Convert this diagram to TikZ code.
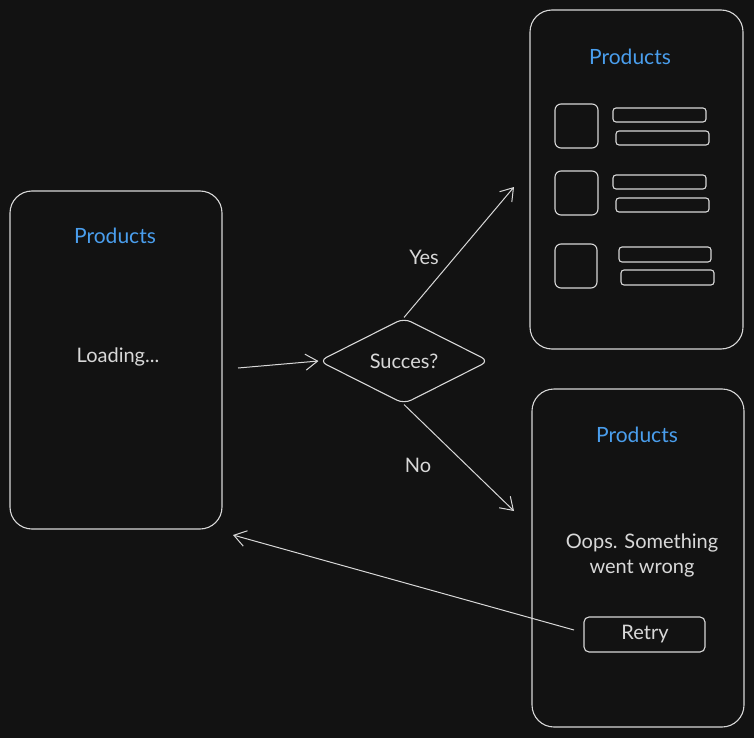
\documentclass[tikz,border=0pt]{standalone}
\usepackage{fontspec}
\setmainfont{Lato}
\usetikzlibrary{arrows.meta,shapes.geometric}
\definecolor{bg}{HTML}{121212}
\definecolor{ink}{HTML}{D8D8D8}
\definecolor{blu}{HTML}{4A9EED}
\tikzset{
  phone/.style={draw=ink, line width=1.1pt, rounded corners=22pt},
  thumb/.style={draw=ink, line width=1.1pt, rounded corners=6pt},
  bar/.style={draw=ink, line width=1.1pt, rounded corners=3pt},
  title/.style={text=blu, font=\fontsize{21}{25}\selectfont},
  lbl/.style={text=ink, font=\fontsize{20}{25}\selectfont, align=center},
  conn/.style={draw=ink, line width=1pt, -{Straight Barb[length=12pt,width=16pt,line width=1pt]}},
}
\begin{document}
\begin{tikzpicture}[x=1pt,y=-1pt]
\fill[bg] (0,0) rectangle (754,738);
\useasboundingbox (0,0) rectangle (754,738);
% left phone
\node[phone, minimum width=212pt, minimum height=338pt] (p1) at (116,360) {};
\node[title] (t1) at (115,236) {Products};
\node[lbl] (load) at (118,357) {Loading...};
\coordinate (a1s) at (238,368);
% diamond
\node[diamond, draw=ink, line width=1.1pt, rounded corners=8pt, minimum width=170pt, minimum height=86pt, inner sep=0pt] (d) at (404,361) {};
\node[lbl] (dt) at (404,361) {Succes?};
% top right phone
\node[phone, minimum width=213pt, minimum height=339pt] (p2) at (636.5,179.5) {};
\node[title] (t2) at (630,57) {Products};
\node[thumb, minimum width=43pt, minimum height=44pt] (s1) at (576.5,126) {};
\node[thumb, minimum width=43pt, minimum height=44pt] (s2) at (576.5,193) {};
\node[thumb, minimum width=42pt, minimum height=44pt] (s3) at (576,266) {};
\node[bar, minimum width=93pt, minimum height=14pt] (b1) at (659.5,115) {};
\node[bar, minimum width=93pt, minimum height=14pt] (b2) at (662.5,138) {};
\node[bar, minimum width=93pt, minimum height=14pt] (b3) at (659.5,182) {};
\node[bar, minimum width=93pt, minimum height=14pt] (b4) at (662.5,205) {};
\node[bar, minimum width=92pt, minimum height=15pt] (b5) at (665,254.5) {};
\node[bar, minimum width=93pt, minimum height=15pt] (b6) at (667.5,277.5) {};
% bottom right phone
\node[phone, minimum width=212pt, minimum height=338pt] (p3) at (638,558) {};
\node[title] (t3) at (637,435) {Products};
\node[lbl] (oops) at (642,555) {Oops. Something\\ went wrong};
\node[bar, rounded corners=5pt, minimum width=121pt, minimum height=35pt] (retry) at (644.5,634.5) {};
\node[lbl] (rt) at (645,634) {Retry};
% connectors
\coordinate (yesend) at (514,187);
\coordinate (noend) at (514,511);
\coordinate (rs) at (574,630);
\coordinate (re) at (233,535);
\draw[conn] (a1s) -- (d.west);
\draw[conn] (d.north) -- (yesend);
\draw[conn] (d.south) -- (noend);
\draw[conn] (rs) -- (re);
\node[lbl] (yes) at (424,257) {Yes};
\node[lbl] (no) at (418,465) {No};
\end{tikzpicture}
\end{document}
